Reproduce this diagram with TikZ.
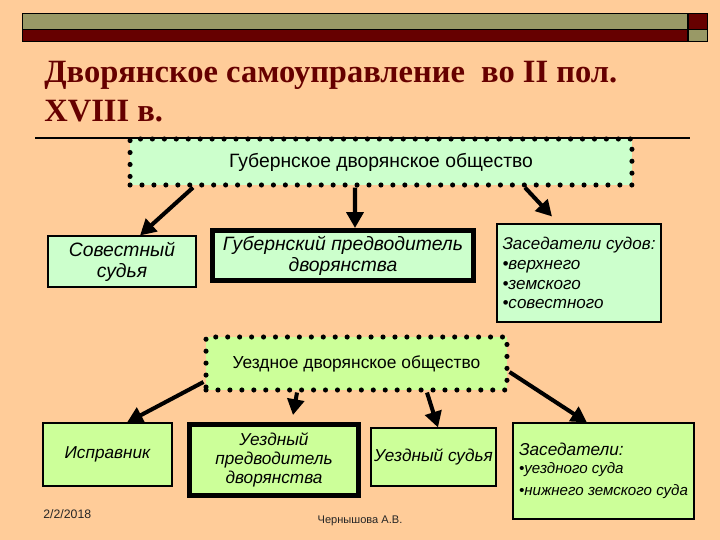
\documentclass[tikz,border=0pt]{standalone}
\usepackage{fontspec}
\setmainfont{Liberation Serif}
\setsansfont{Liberation Sans}
\usetikzlibrary{arrows.meta}
\definecolor{peach}{RGB}{255,204,153}
\definecolor{mint}{RGB}{204,255,204}
\definecolor{lime}{RGB}{204,255,153}
\definecolor{maroon}{RGB}{102,0,0}
\definecolor{olivebar}{RGB}{153,153,102}
\tikzset{
	>={Triangle[length=9pt,width=9.5pt]}
}

\begin{document}
\begin{tikzpicture}[
x = 0.02cm,
y = -0.02cm,
every node/.style = {
	font = \sffamily
},
society/.style = {
	draw,
	line width = 2.9pt,
	dash pattern = on 0pt off 6.8pt,
	line cap = round,
	inner sep = 0pt
},
office/.style = {
	draw,
	line width = 0.6pt,
	inner sep = 0pt,
	align = center
},
chief/.style = {
	office,
	line width = 2.8pt
},
link/.style = {
	->,
	line width = 2.3pt
},
toptext/.style = {
	font = \sffamily\itshape\fontsize{11pt}{12pt}\selectfont
},
lowtext/.style = {
	font = \sffamily\itshape\fontsize{9.8pt}{10.8pt}\selectfont
}
]

\fill[peach] (0,0) rectangle (720,540);
\useasboundingbox (0,0) rectangle (720,540);

% header bar
\draw[fill=olivebar, line width=0.4pt] (22,13) rectangle (687,29);
\draw[fill=maroon, line width=0.4pt] (22,29) rectangle (687,41);
\draw[fill=maroon, line width=0.4pt] (688,13) rectangle (707,29);
\draw[fill=olivebar, line width=0.4pt] (688,29) rectangle (707,41);

\node (title) [anchor=north west, inner sep=0pt, align=left, text=maroon,
	font=\rmfamily\bfseries\fontsize{18.5pt}{22pt}\selectfont] at (44,61)
	{Дворянское самоуправление \ во II пол.\\XVIII в.};
\draw[line width=0.6pt] (35,138) -- (690,138);

% province level
\node (gubobsh) [society, fill=mint, minimum width=10.04cm, minimum height=0.92cm,
	font=\sffamily\fontsize{11pt}{12pt}\selectfont] at (381,162) {Губернское дворянское общество};
\node (sovsud) [office, toptext, fill=mint, minimum width=2.96cm, minimum height=1.02cm] at (122,261.5) {Совестный\\судья};
\node (gubpred) [chief, toptext, fill=mint, minimum width=5.22cm, minimum height=1.0cm] at (343,255.5) {Губернский предводитель\\дворянства};
\node (zassud) [office, fill=mint, align=left, minimum width=3.28cm, minimum height=1.96cm,
	font=\sffamily\itshape\fontsize{9.7pt}{11.3pt}\selectfont] at (579,273)
	{Заседатели судов:\\•верхнего\\•земского\\•совестного};

\draw[link] ([xshift=-3.76cm]gubobsh.south) -- ([xshift=0.36cm]sovsud.north);
\draw[link] ([xshift=-0.52cm]gubobsh.south) -- ([xshift=0.24cm]gubpred.north);
\draw[link] ([xshift=2.88cm]gubobsh.south) -- ([xshift=-0.54cm,yshift=0.14cm]zassud.north);

% district level
\node (uezobsh) [society, fill=lime, minimum width=6.02cm, minimum height=1.06cm,
	font=\sffamily\fontsize{9.9pt}{11pt}\selectfont] at (356.5,363.5) {Уездное дворянское общество};
\node (ispr) [office, lowtext, fill=lime, minimum width=2.58cm, minimum height=1.26cm] at (107.5,454.5) {Исправник};
\node (uezpred) [chief, lowtext, fill=lime, minimum width=3.38cm, minimum height=1.42cm] at (274,460) {Уездный\\предводитель\\дворянства};
\node (uezsud) [office, lowtext, fill=lime, minimum width=2.5cm, minimum height=1.16cm] at (433.5,457) {Уездный судья};
\node (zas) [office, fill=lime, align=left, minimum width=3.62cm, minimum height=1.92cm,
	font=\sffamily\itshape\fontsize{8.6pt}{9.7pt}\selectfont] at (603.5,471)
	{{\fontsize{9.8pt}{11pt}\selectfont Заседатели:}\\•уездного суда\\[3pt]•нижнего земского суда};

\draw[link] ([yshift=-0.37cm]uezobsh.west) -- ([xshift=0.39cm]ispr.north);
\draw[link] ([xshift=-1.19cm]uezobsh.south) -- ([xshift=0.38cm,yshift=0.14cm]uezpred.north);
\draw[link] ([xshift=1.41cm]uezobsh.south) -- ([xshift=0.09cm]uezsud.north);
\draw[link] ([yshift=-0.17cm]uezobsh.east) -- ([xshift=-0.33cm]zas.north);

% footer
\node (date) [anchor=base west, inner sep=0pt, text=black!85, font=\sffamily\fontsize{7pt}{8pt}\selectfont] at (43,518) {2/2/2018};
\node (author) [anchor=base, inner sep=0pt, text=black!85, font=\sffamily\fontsize{6.3pt}{7pt}\selectfont] at (360,523) {Чернышова А.В.};

\end{tikzpicture}
\end{document}
